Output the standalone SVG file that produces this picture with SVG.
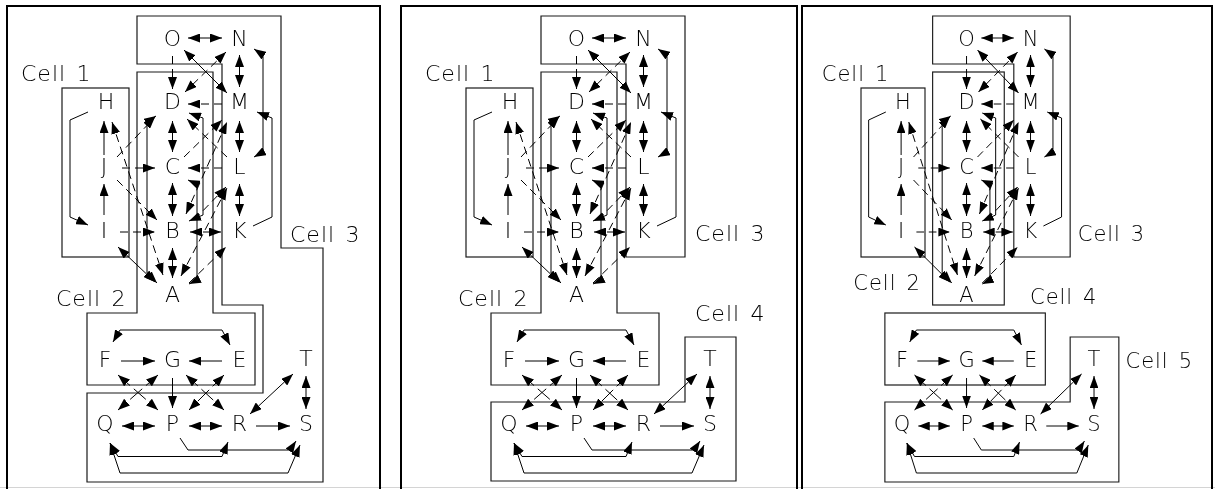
<svg xmlns="http://www.w3.org/2000/svg" xmlns:xlink="http://www.w3.org/1999/xlink" width="1215" height="489" viewBox="0 0 1215 489">
  <style>
    .s { fill: none; stroke: #000; stroke-width: 1; }
    .d { fill: none; stroke: #000; stroke-width: 1; stroke-dasharray: 8 5; }
    .x { stroke-dasharray: 16 5; }
    .two { marker-start: url(#ah); marker-end: url(#ah); }
    .one { marker-end: url(#ah); }
    .cell { fill: none; stroke: #1a1a1a; stroke-width: 1.2; }
    .frame { fill: none; stroke: #000; stroke-width: 2; }
    .lbl { font-family: "DejaVu Sans", "Liberation Sans", Arial, sans-serif; font-weight: 200; font-size: 22px; fill: #000; text-anchor: middle; }
    .cl { font-family: "DejaVu Sans", "Liberation Sans", Arial, sans-serif; font-weight: 200; font-size: 22px; fill: #000; letter-spacing: 1px; word-spacing: 2.5px; white-space: pre; }
  </style>
  <defs>
    <filter id="mono" x="0" y="0" width="1" height="1">
      <feColorMatrix type="saturate" values="0"/>
    </filter>
    <marker id="ah" viewBox="0 0 12 9" refX="12" refY="4.5" markerWidth="12" markerHeight="9" markerUnits="userSpaceOnUse" orient="auto-start-reverse">
      <path d="M0,0 L12,4.5 L0,9 z" fill="#000"/>
    </marker>

    <!-- the network shared by all three partitions -->
    <g id="net">
      <g id="connectors">
        <!-- solid links -->
        <path class="s two" d="M188,38 L222,38"/>
        <path class="s two" d="M239.5,55 L239.5,87"/>
        <path class="s two" d="M184,50 L227,93"/>
        <path class="s two" d="M239.5,121 L239.5,152"/>
        <path class="s two" d="M172.5,121 L172.5,152"/>
        <path class="s two" d="M172.5,183 L172.5,216"/>
        <path class="s two" d="M172.5,248 L172.5,278"/>
        <path class="s two" d="M239.5,184 L239.5,216"/>
        <path class="s one" d="M104,155 L104,121"/>
        <path class="s one" d="M104,215 L104,184"/>
        <path class="s one" d="M88,112 L70,120 L70,217 L88,225"/>
        <path class="s two" d="M254,49 L263,55 L263,152 L254,157"/>
        <path class="s one" d="M253,226 L272,217 L272,118 L257,112"/>
        <path class="s two" d="M189,113 L203,118 L203,215 L189,221"/>
        <path class="s two" d="M188,180 L197,184 L197,280 L189,284"/>
        <path class="s two" d="M156,116 L147,122 L147,273 L157,283"/>
        <path class="s two" d="M118,247 L155,282"/>
        <path class="s one" d="M121,361 L155,361"/>
        <path class="s one" d="M222,361 L189,361"/>
        <path class="s two" d="M113,342 L120,330 L222,330 L230,345"/>
        <path class="s one" d="M172.5,378 L172.5,408"/>
        <path class="s two" d="M122,426 L155,426"/>
        <path class="s two" d="M189,426 L222,426"/>
        <path class="s one" d="M256,426 L290,426"/>
        <path class="s two" d="M293,374 L250,414"/>
        <path class="s two" d="M306,376 L306,409"/>
        <path class="s one" d="M180,438 L188,450 L290,450 L296,441"/>
        <path class="s two" d="M110,443 L118,456.5 L222,456.5 L228,442"/>
        <path class="s two" d="M110,443 L120,473 L288,473 L300,445"/>
        <!-- crossing links between the F-G-E and Q-P-R rows -->
        <path class="d x two" d="M118,375 L158,410"/>
        <path class="d x two" d="M158,375 L118,410"/>
        <path class="d x two" d="M186,375 L224,410"/>
        <path class="d x two" d="M224,375 L189,410"/>
        <!-- dashed links -->
        <path class="d one" d="M172.5,56 L172.5,89"/>
        <path class="d two" d="M226,52 L185,92"/>
        <path class="d one" d="M222,104 L188,104"/>
        <path class="d one" d="M222,168 L188,168"/>
        <path class="d two" d="M190,232 L221,232"/>
        <path class="d one" d="M122,168 L155,168"/>
        <path class="d one" d="M120,232 L155,232"/>
        <path class="d one" d="M117,157 L155,117"/>
        <path class="d one" d="M117,180 L157,220"/>
        <path class="d two" d="M112,122 L163,275"/>
        <path class="d one" d="M227,157 L187,119"/>
        <path class="d one" d="M184,157 L222,120"/>
        <path class="d two" d="M186,214 L227,122"/>
        <path class="d one" d="M194,220 L226,187"/>
        <path class="d two" d="M181,276 L227,188"/>
        <path class="d one" d="M189,283 L226,247"/>
      </g>
      <g id="nodes" class="lbl" filter="url(#mono)">
        <g id="node-O"><text x="172.5" y="46">O</text></g>
        <g id="node-N"><text x="239.5" y="46">N</text></g>
        <g id="node-H"><text x="106" y="109">H</text></g>
        <g id="node-D"><text x="172.5" y="109">D</text></g>
        <g id="node-M"><text x="239.5" y="109">M</text></g>
        <g id="node-J"><text x="104" y="174">J</text></g>
        <g id="node-C"><text x="172.5" y="174">C</text></g>
        <g id="node-L"><text x="239.5" y="174">L</text></g>
        <g id="node-I"><text x="104" y="238">I</text></g>
        <g id="node-B"><text x="172.5" y="238">B</text></g>
        <g id="node-K"><text x="239.5" y="238">K</text></g>
        <g id="node-A"><text x="172.5" y="302">A</text></g>
        <g id="node-F"><text x="105" y="367">F</text></g>
        <g id="node-G"><text x="172.5" y="367">G</text></g>
        <g id="node-E"><text x="239.5" y="367">E</text></g>
        <g id="node-T"><text x="306" y="366">T</text></g>
        <g id="node-Q"><text x="105" y="431">Q</text></g>
        <g id="node-P"><text x="172.5" y="431">P</text></g>
        <g id="node-R"><text x="239.5" y="431">R</text></g>
        <g id="node-S"><text x="306" y="431">S</text></g>
      </g>
    </g>
  </defs>

  <rect width="1215" height="489" fill="#fff"/>
  <line x1="0" y1="487.5" x2="1215" y2="487.5" stroke="#d4d4d4" stroke-width="1"/>

  <!-- partition into three cells -->
  <g id="panel-1">
    <rect class="frame" x="7" y="6" width="373" height="486"/>
    <g id="p1-cells">
      <rect class="cell" x="62" y="88" width="67" height="169"/>
      <polygon class="cell" points="137,72 213,72 213,313 255,313 255,385 87,385 87,313 137,313"/>
      <polygon class="cell" points="137,16 281,16 281,248 323,248 323,482 87,482 87,393 263,393 263,305 222,305 222,64 137,64"/>
    </g>
    <use xlink:href="#net"/>
    <g class="cl" filter="url(#mono)" xml:space="preserve">
      <text x="21" y="81">Cell  1</text>
      <text x="56" y="306">Cell  2</text>
      <text x="290" y="242">Cell  3</text>
    </g>
  </g>

  <!-- partition into four cells -->
  <g id="panel-2">
    <rect class="frame" x="401" y="6" width="396" height="486"/>
    <g transform="translate(404,0)">
      <g id="p2-cells">
        <rect class="cell" x="62" y="88" width="67" height="169"/>
        <polygon class="cell" points="137,72 213,72 213,313 255,313 255,385 87,385 87,313 137,313"/>
        <polygon class="cell" points="137,16 281,16 281,257 222,257 222,64 137,64"/>
        <polygon class="cell" points="87,402 281,402 281,337 332,337 332,481 87,481"/>
      </g>
      <use xlink:href="#net"/>
      <g class="cl" filter="url(#mono)" xml:space="preserve">
        <text x="21" y="81">Cell  1</text>
        <text x="54" y="306">Cell  2</text>
        <text x="291" y="241">Cell  3</text>
        <text x="291" y="321">Cell  4</text>
      </g>
    </g>
  </g>

  <!-- partition into five cells -->
  <g id="panel-3">
    <rect class="frame" x="802" y="6" width="410" height="486"/>
    <g transform="translate(801.8,0) scale(0.955,1)">
      <g id="p3-cells">
        <rect class="cell" x="62" y="88" width="67" height="169"/>
        <rect class="cell" x="137" y="72" width="75" height="233"/>
        <polygon class="cell" points="137,16 281,16 281,257 222,257 222,64 137,64"/>
        <rect class="cell" x="87" y="313" width="168" height="72"/>
        <polygon class="cell" points="87,402 281,402 281,337 332,337 332,482 87,482"/>
      </g>
      <use xlink:href="#net"/>
      <g class="cl" filter="url(#mono)" xml:space="preserve">
        <text x="21" y="81">Cell  1</text>
        <text x="54" y="290">Cell  2</text>
        <text x="289" y="241">Cell  3</text>
        <text x="239" y="304">Cell  4</text>
        <text x="339" y="368">Cell  5</text>
      </g>
    </g>
  </g>
</svg>
